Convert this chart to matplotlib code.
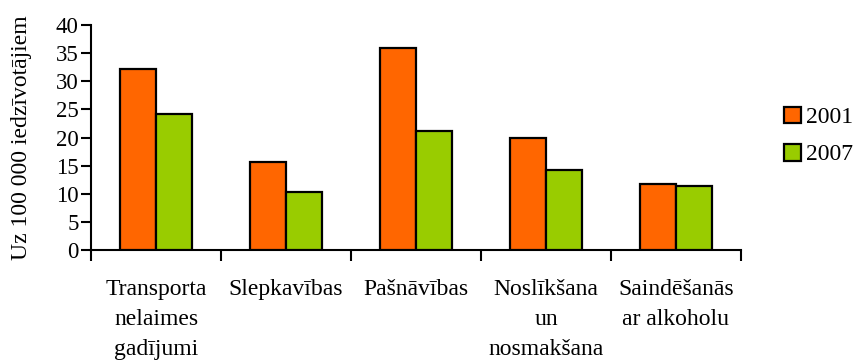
import matplotlib
matplotlib.use("Agg")
import matplotlib.pyplot as plt
import numpy as np

categories = ["Transporta\nnelaimes\ngadījumi", "Slepkavības", "Pašnāvības",
              "Noslīkšana\nun\nnosmakšana", "Saindēšanās\nar alkoholu"]
series_names = ["2001", "2007"]
values_2001 = [32.2, 15.6, 36.0, 19.9, 11.7]
values_2007 = [24.1, 10.3, 21.2, 14.2, 11.3]
y_ticks = [0, 5, 10, 15, 20, 25, 30, 35, 40]
y_label = "Uz 100 000 iedzīvotājiem"

plt.rcParams['font.family'] = ['Liberation Serif', 'DejaVu Serif']

fig = plt.figure(figsize=(8.56, 3.61), dpi=100)
ax = fig.add_axes([91/856, 1-250/361, (741-91)/856, (250-25)/361])

x = np.arange(len(categories))
w = 0.28
ax.bar(x - w/2, values_2001, w, color="#FF6600", edgecolor="black", linewidth=1.6, label=series_names[0], zorder=3)
ax.bar(x + w/2, values_2007, w, color="#99CC00", edgecolor="black", linewidth=1.6, label=series_names[1], zorder=3)

ax.set_xlim(-0.5, len(categories) - 0.5)
ax.set_ylim(0, 40)
ax.set_yticks(y_ticks)
ax.tick_params(axis='y', labelsize=16.5, length=7, width=1.5, direction='out', pad=2)

ax.set_xticks(np.arange(len(categories) + 1) - 0.5)
ax.set_xticklabels([])
ax.tick_params(axis='x', which='major', length=8, width=1.5, direction='out')
ax.set_xticks(x, minor=True)
ax.set_xticklabels(categories, minor=True, fontsize=17, linespacing=1.55)
ax.tick_params(axis='x', which='minor', length=0, pad=21)

for s in ['top', 'right']:
    ax.spines[s].set_visible(False)
for s in ['left', 'bottom']:
    ax.spines[s].set_linewidth(1.5)

fig.text(22/856, 1-138/361, y_label, rotation=90, ha='center', va='center', fontsize=17)

handles, labels = ax.get_legend_handles_labels()
fig.legend(handles, labels, loc='center left', bbox_to_anchor=(784/856, 1-136/361),
           frameon=False, fontsize=17, handlelength=0.72, handleheight=0.72,
           handletextpad=0.22, labelspacing=0.65, borderpad=0, borderaxespad=0)

fig.savefig("out.png", dpi=100)
